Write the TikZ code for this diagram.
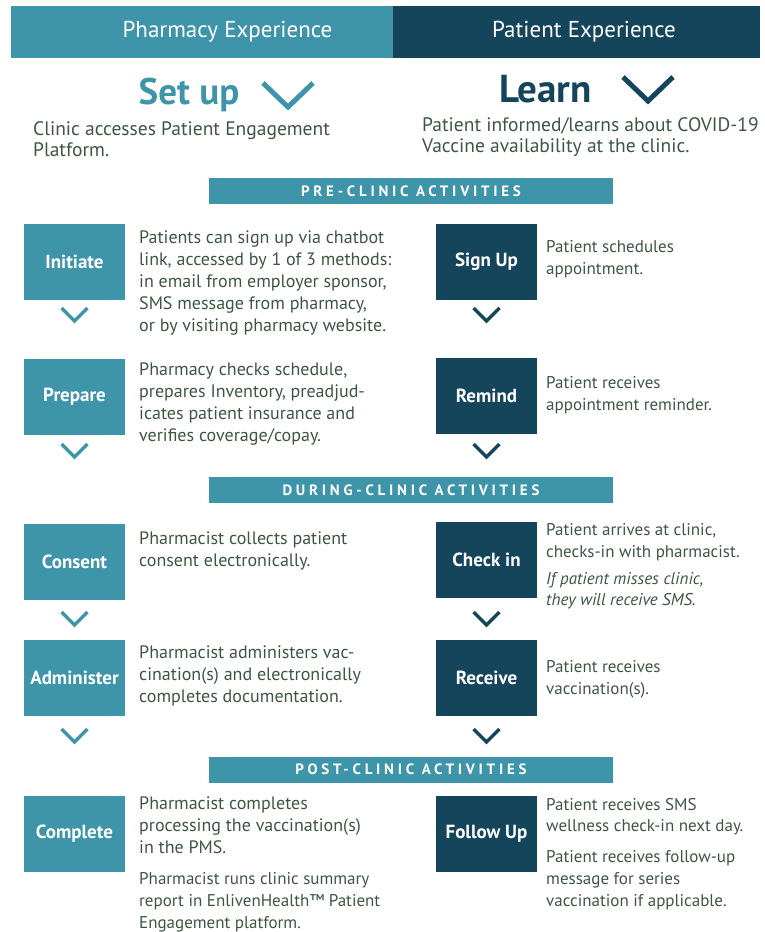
\documentclass[tikz,border=0pt]{standalone}
\usepackage{fontspec}
\setmainfont{PT Sans}
\newfontfamily\spacedfont[LetterSpace=25]{PT Sans}
\usetikzlibrary{calc}
\definecolor{teal1}{HTML}{3E94A8}
\definecolor{navy1}{HTML}{15455A}
\definecolor{txt}{HTML}{3E5641}
\tikzset{
  tbox/.style={fill=teal1, text=white, font=\bfseries\fontsize{19}{21}\selectfont,
    minimum width=101pt, minimum height=76pt, inner sep=0pt},
  nbox/.style={tbox, fill=navy1},
  descbase/.style={anchor=north west, inner sep=0pt, align=left, text=txt,
    execute at begin node=\strut},
  desc/.style={descbase, font=\fontsize{18}{22.2}\selectfont, yshift=12.8pt},
  descs/.style={descbase, font=\fontsize{17}{21.8}\selectfont, yshift=12.3pt},
  top/.style={descbase, font=\fontsize{19.5}{21}\selectfont, yshift=14.2pt},
  bar/.style={fill=teal1, text=white, minimum width=404pt, minimum height=26pt, inner sep=0pt,
    font=\spacedfont\bfseries\fontsize{15}{16}\selectfont},
  head/.style={text=white, inner sep=0pt, font=\fontsize{23}{26}\selectfont},
  chev/.pic={\draw[line width=3.5pt, line join=miter] (-13,0) -- (0,13) -- (13,0);},
  bigchev/.pic={\draw[line width=5pt, line join=miter] (-25,0) -- (0,24) -- (25,0);}
}
\begin{document}
\begin{tikzpicture}[x=1pt,y=-1pt]
\useasboundingbox (0,0) rectangle (765,932);
% header
\node[fill=teal1, minimum width=382pt, minimum height=52pt, inner sep=0pt, anchor=north west] (hl) at (11,6) {};
\node[fill=navy1, minimum width=367pt, minimum height=52pt, inner sep=0pt, anchor=north west] (hr) at (393,6) {};
\node[head] (hlt) at (227.5,32) {Pharmacy Experience};
\node[head] (hrt) at (584,32) {Patient Experience};
% phase titles
\node[text=teal1, inner sep=0pt, anchor=base, font=\bfseries\fontsize{37}{38}\selectfont] (setup) at (189,104) {Set up};
\pic[color=teal1] at (288,83) {bigchev};
\node[text=navy1, inner sep=0pt, anchor=base, font=\bfseries\fontsize{39}{40}\selectfont] (learn) at (545.5,102) {Learn};
\pic[color=navy1] at (648,77) {bigchev};
\node[top] (tsetup) at (33,136) {Clinic accesses Patient Engagement\\Platform.};
\node[top] (tlearn) at (422,132) {Patient informed/learns about COVID-19\\Vaccine availability at the clinic.};
% section bars
\node[bar] (pre) at (411,191) {PRE-CLINIC ACTIVITIES};
\node[bar] (during) at (411,490) {DURING-CLINIC ACTIVITIES};
\node[bar] (post) at (411,769.5) {POST-CLINIC ACTIVITIES};
% left column
\node[tbox] (init) at (74.5,261.5) {Initiate};
\node[tbox] (prep) at (74.5,396.5) {Prepare};
\node[tbox] (cons) at (74.5,562) {Consent};
\node[tbox] (admin) at (74.5,678) {Administer};
\node[tbox] (compl) at (74.5,834) {Complete};
\pic[color=teal1] at (74.5,308) {chev};
\pic[color=teal1] at (74.5,444) {chev};
\pic[color=teal1] at (74.5,612) {chev};
\pic[color=teal1] at (74.5,729) {chev};
\node[desc] (tinit) at (139,243) {Patients can sign up via chatbot\\link, accessed by 1 of 3 methods:\\in email from employer sponsor,\\SMS message from pharmacy,\\or by visiting pharmacy website.};
\node[desc] (tprep) at (139,375) {Pharmacy checks schedule,\\prepares Inventory, preadjud-\\icates patient insurance and\\verifies coverage/copay.};
\node[desc] (tcons) at (139,544) {Pharmacist collects patient\\consent electronically.};
\node[desc] (tadmin) at (139,658) {Pharmacist administers vac-\\cination(s) and electronically\\completes documentation.};
\node[desc] (tcompl) at (139,809) {Pharmacist completes\\processing the vaccination(s)\\in the PMS.};
\node[descs] (tcompl2) at (139,885) {Pharmacist runs clinic summary\\report in EnlivenHealth™ Patient\\Engagement platform.};
% right column
\node[nbox] (sign) at (486.5,261.5) {Sign Up};
\node[nbox] (remind) at (486.5,395.5) {Remind};
\node[nbox] (check) at (486.5,560) {Check in};
\node[nbox] (recv) at (486.5,678) {Receive};
\node[nbox] (follow) at (486.5,834) {Follow Up};
\pic[color=navy1] at (486.5,308) {chev};
\pic[color=navy1] at (486.5,444) {chev};
\pic[color=navy1] at (486.5,612) {chev};
\pic[color=navy1] at (486.5,729) {chev};
\node[descs] (tsign) at (546,253) {Patient schedules\\appointment.};
\node[descs] (tremind) at (546,389) {Patient receives\\appointment reminder.};
\node[descs] (tcheck) at (546,536) {Patient arrives at clinic,\\checks-in with pharmacist.};
\node[descs, font=\itshape\fontsize{17}{21.8}\selectfont] (tcheck2) at (546,584) {If patient misses clinic,\\they will receive SMS.};
\node[descs] (trecv) at (546,673) {Patient receives\\vaccination(s).};
\node[descs] (tfollow) at (546,810) {Patient receives SMS\\wellness check-in next day.};
\node[descs] (tfollow2) at (546,863) {Patient receives follow-up\\message for series\\vaccination if applicable.};
\end{tikzpicture}
\end{document}
